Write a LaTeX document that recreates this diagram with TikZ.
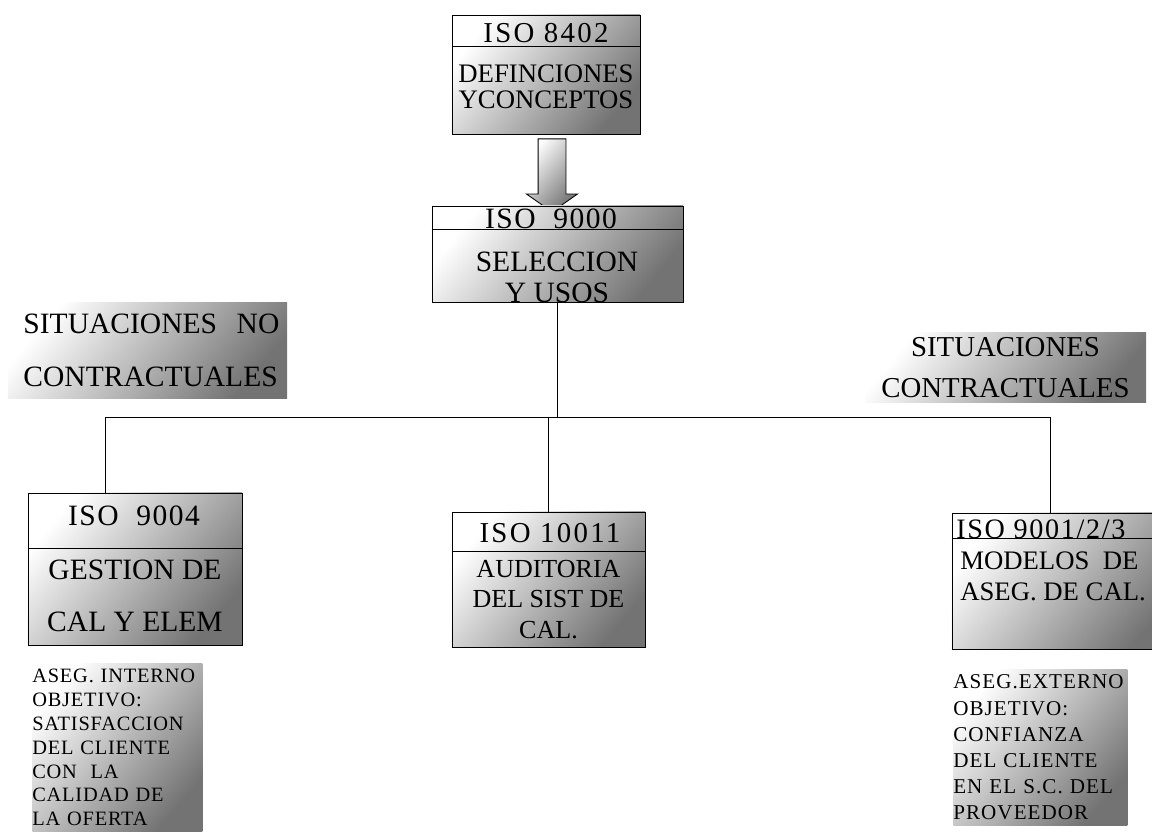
\documentclass[tikz,border=0pt]{standalone}
\usepackage{fontspec}
\setmainfont{Liberation Serif}
\usetikzlibrary{calc,positioning,shapes.arrows}

\begin{document}
\begin{tikzpicture}[
  x=0.025cm, y=-0.025cm,
  shade/.style={top color=white, bottom color=black!55, shading angle=50},
  box/.style={shade, draw, line width=0.6pt, inner sep=0pt},
  ttl/.style={inner sep=0pt, align=center, font=\fontsize{#1}{#1}\selectfont},
  txt/.style={inner sep=0pt, align=center},
  situ/.style={shade, inner sep=0pt},
  note/.style={shade, inner xsep=0pt, inner ysep=4pt, anchor=north west, text width=#1, align=left},
  conn/.style={line width=0.6pt},
  blockarrow/.style={shade, draw, line width=0.6pt, single arrow, shape border rotate=270,
    minimum height=1.825cm, inner sep=0.3375cm, single arrow head extend=0.29cm,
    single arrow tip angle=110}
]
\clip (0,0) rectangle (1152,832);
% top boxes
\node[box, minimum width=4.7cm, minimum height=2.975cm] (b8402) at (546,74.5) {};
\draw[conn] ($(b8402.north west)+(0,32)$) -- ($(b8402.north east)+(0,32)$);
\node[ttl=20.5] (t8402) at (546,33) {\addfontfeatures{LetterSpace=8}ISO 8402};
\node[txt, font=\fontsize{19}{18.4}\selectfont] (d8402) at (546,87) {DEFINCIONES\\YCONCEPTOS};
\node[blockarrow] (arr) at (552,170.5) {};
\node[box, minimum width=6.275cm, minimum height=2.4cm] (b9000) at (557.5,254) {};
\draw[conn] ($(b9000.north west)+(0,24)$) -- ($(b9000.north east)+(0,24)$);
\node[ttl=21] (t9000) at (551,219) {\addfontfeatures{LetterSpace=5}ISO\ \ 9000};
\node[txt, font=\fontsize{21}{22}\selectfont] (d9000) at (557,277.5) {SELECCION\\Y USOS};
% side labels
\node[situ, minimum width=6.975cm, minimum height=2.375cm, inner xsep=0.375cm,
  text width=6.2cm, align=left, font=\fontsize{21}{37.6}\selectfont] (sitn) at (147.5,350.5)
  {SITUACIONES~~NO\\CONTRACTUALES};
\node[situ, minimum width=7.025cm, minimum height=1.725cm, align=center,
  font=\fontsize{20.5}{29}\selectfont] (sitc) at (1005.5,367.5)
  {SITUACIONES\\CONTRACTUALES};
% lower boxes
\node[box, minimum width=5.35cm, minimum height=3.8cm] (b9004) at (135,569) {};
\draw[conn] ($(b9004.north west)+(0,56)$) -- ($(b9004.north east)+(0,56)$);
\node[ttl=21] (t9004) at (134,516) {\addfontfeatures{LetterSpace=5}ISO\ \ 9004};
\node[txt, font=\fontsize{21}{36.9}\selectfont] (d9004) at (135,596) {GESTION DE\\CAL Y ELEM};
\node[box, minimum width=4.825cm, minimum height=3.375cm] (b10011) at (548.5,579.5) {};
\draw[conn] ($(b10011.north west)+(0,40)$) -- ($(b10011.north east)+(0,40)$);
\node[ttl=20.5] (t10011) at (550,533) {\addfontfeatures{LetterSpace=8}ISO 10011};
\node[txt, font=\fontsize{18.5}{21.6}\selectfont] (d10011) at (548.5,599.5) {AUDITORIA\\DEL SIST DE\\CAL.};
\node[box, minimum width=5.7cm, minimum height=3.4cm] (b9001) at (1066,581) {};
\draw[conn] ($(b9001.north west)+(0,26)$) -- ($(b9001.north east)+(0,26)$);
\node[ttl=20, anchor=west] (t9001) at (956,529) {\addfontfeatures{LetterSpace=6}ISO 9001/2/3};
\node[txt, align=left, anchor=west, font=\fontsize{19}{22}\selectfont] (d9001) at (960,576.5)
  {MODELOS\ \ DE\\ASEG.\ DE\ CAL.};
% notes
\node[note=4.25cm, font=\fontsize{14.5}{17}\selectfont\addfontfeatures{LetterSpace=4}] (n9004) at (32,663)
  {ASEG.\ INTERNO\\OBJETIVO:\\SATISFACCION\\DEL CLIENTE\\CON\ \ LA\\CALIDAD DE\\LA OFERTA};
\node[note=4.35cm, font=\fontsize{15}{18.6}\selectfont\addfontfeatures{LetterSpace=5}] (n9001) at (953,669)
  {ASEG.EXTERNO\\OBJETIVO:\\CONFIANZA\\DEL CLIENTE\\EN EL S.C. DEL\\PROVEEDOR};
% connectors
\coordinate (jl) at (105,417);
\coordinate (jm) at (548.5,417);
\coordinate (jr) at (1050,417);
\draw[conn] (b9000.south) -- (b9000.south |- jl);
\draw[conn] (jl) -- (jr);
\draw[conn] (jl) -- (jl |- b9004.north);
\draw[conn] (jm) -- (b10011.north);
\draw[conn] (jr) -- (jr |- b9001.north);
\end{tikzpicture}
\end{document}
